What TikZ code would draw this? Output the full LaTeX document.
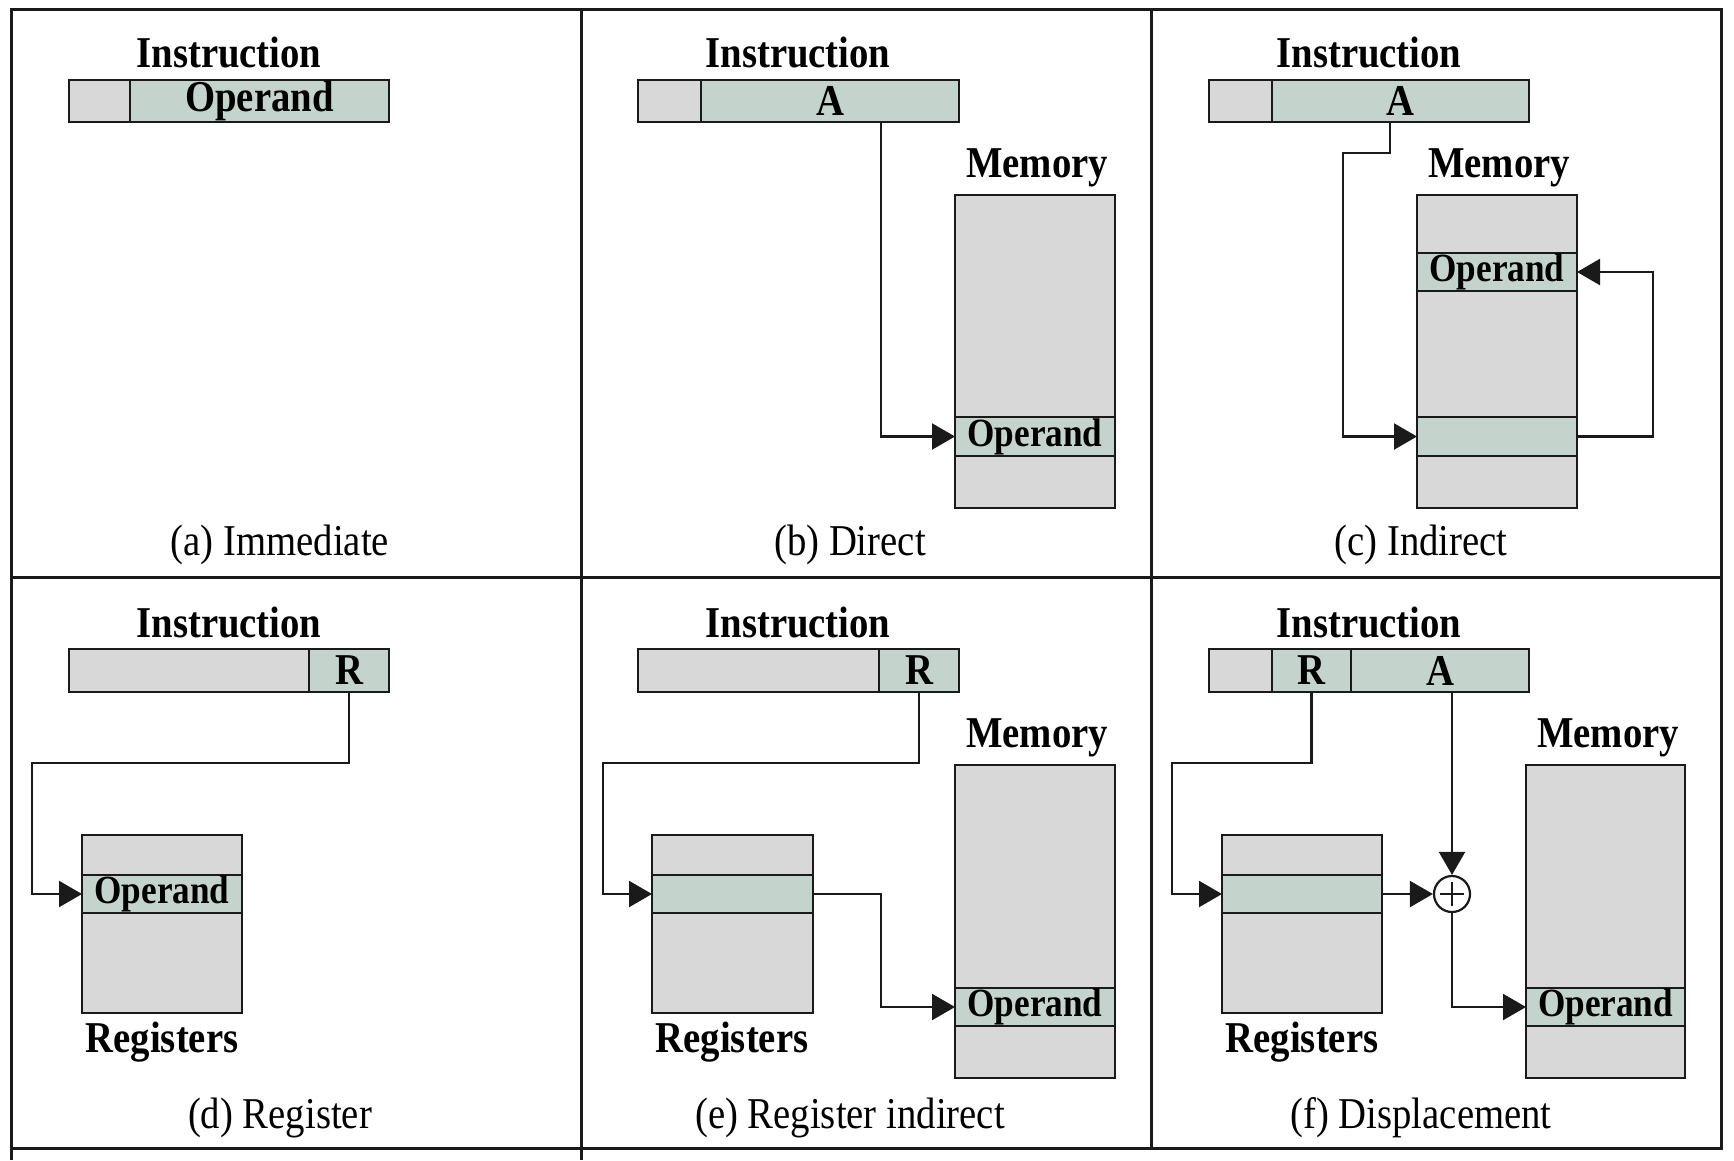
\documentclass[tikz,border=0pt]{standalone}
\usepackage{fontspec}
\setmainfont{Liberation Serif}[FakeStretch=0.88]
\usetikzlibrary{arrows.meta}
\definecolor{boxgray}{HTML}{D8D8D8}
\definecolor{boxgreen}{HTML}{C4D4CC}
\definecolor{ink}{HTML}{1A1A1A}
\newcommand\cellbox[7]{\node[part,#6,minimum width={(#4)-(#2)},minimum height={(#5)-(#3)}] (#1) at ({((#2)+(#4))/2},{((#3)+(#5))/2}) {#7};}
\begin{document}
\begin{tikzpicture}[x=1pt,y=-1pt,
 part/.style={draw=ink,line width=2.2pt,inner sep=0pt,outer sep=0pt},
 gry/.style={fill=boxgray}, grn/.style={fill=boxgreen},
 lab/.style={font=\fontsize{44}{52}\selectfont\bfseries,inner sep=0pt,anchor=base},
 capt/.style={font=\fontsize{44}{52}\selectfont,inner sep=0pt,anchor=base},
 fldtxt/.style={font=\fontsize{44}{52}\selectfont\bfseries},
 optxt/.style={font=\fontsize{40}{48}\selectfont\bfseries},
 arr/.style={draw=ink,line width=2.2pt,-{Triangle[length=23pt,width=26pt]}},
 wire/.style={draw=ink,line width=2.2pt},
 cellframe/.style={draw=ink,line width=3pt}]
\useasboundingbox (0,0) rectangle (1734,1160);
% frame
\draw[cellframe] (11,1160) -- (11,9) -- (1721,9) -- (1721,1148) -- (11,1148);
\draw[cellframe] (11,577) -- (1721,577);
\draw[cellframe] (581,9) -- (581,1160);
\draw[cellframe] (1151,9) -- (1151,1148);
% (a)
\node[lab] (aI) at (229,67) {Instruction};
\cellbox{aOpc}{69}{80}{130}{122}{gry}{}
\cellbox{aF}{130}{80}{389}{122}{grn,fldtxt}{Operand}
\node[capt] (aC) at (280,555) {(a) Immediate};
% (b)
\node[lab] (bI) at (798,67) {Instruction};
\cellbox{bOpc}{638}{80}{701}{122}{gry}{}
\cellbox{bA}{701}{80}{959}{122}{grn,fldtxt}{A}
\node[lab] (bML) at (1037,177) {Memory};
\cellbox{bM}{955}{195}{1115}{508}{gry}{}
\cellbox{bOp}{955}{417}{1115}{456}{grn,optxt}{Operand}
\coordinate (bAo) at (881,122);
\draw[arr] (bAo) |- (bOp.west);
\node[capt] (bC) at (850,555) {(b) Direct};
% (c)
\node[lab] (cI) at (1369,67) {Instruction};
\cellbox{cOpc}{1209}{80}{1272}{122}{gry}{}
\cellbox{cA}{1272}{80}{1529}{122}{grn,fldtxt}{A}
\node[lab] (cML) at (1499,177) {Memory};
\cellbox{cM}{1417}{195}{1577}{508}{gry}{}
\cellbox{cOp}{1417}{253}{1577}{291}{grn,optxt}{Operand}
\cellbox{cPtr}{1417}{417}{1577}{456}{grn}{}
\coordinate (cAo) at (1390,122);
\coordinate (cK) at (1343,153);
\draw[arr] (cAo) |- (cK) |- (cPtr.west);
\coordinate (cK2) at (1653,436.5);
\draw[arr] (cPtr.east) -- (cK2) |- (cOp.east);
\node[capt] (cC) at (1421,555) {(c) Indirect};
% (d)
\node[lab] (dI) at (229,637) {Instruction};
\cellbox{dOpc}{69}{649}{309}{692}{gry}{}
\cellbox{dR}{309}{649}{389}{692}{grn,fldtxt}{R}
\cellbox{dReg}{82}{835}{242}{1013}{gry}{}
\cellbox{dOp}{82}{875}{242}{913}{grn,optxt}{Operand}
\node[lab] (dRL) at (162,1052) {Registers};
\coordinate (dK) at (32,763);
\draw[arr] (dR.south) |- (dK) |- (dOp.west);
\node[capt] (dC) at (280,1128) {(d) Register};
% (e)
\node[lab] (eI) at (798,637) {Instruction};
\cellbox{eOpc}{638}{649}{879}{692}{gry}{}
\cellbox{eR}{879}{649}{959}{692}{grn,fldtxt}{R}
\node[lab] (eML) at (1037,747) {Memory};
\cellbox{eM}{955}{765}{1115}{1078}{gry}{}
\cellbox{eOp}{955}{988}{1115}{1026}{grn,optxt}{Operand}
\cellbox{eReg}{652}{835}{813}{1013}{gry}{}
\cellbox{eRow}{652}{875}{813}{913}{grn}{}
\node[lab] (eRL) at (732,1052) {Registers};
\coordinate (eK) at (603,763);
\draw[arr] (eR.south) |- (eK) |- (eRow.west);
\coordinate (eK2) at (881,894);
\draw[arr] (eRow.east) -- (eK2) |- (eOp.west);
\node[capt] (eC) at (850,1128) {(e) Register indirect};
% (f)
\node[lab] (fI) at (1369,637) {Instruction};
\cellbox{fOpc}{1209}{649}{1272}{692}{gry}{}
\cellbox{fR}{1272}{649}{1351}{692}{grn,fldtxt}{R}
\cellbox{fA}{1351}{649}{1529}{692}{grn,fldtxt}{A}
\node[lab] (fML) at (1608,747) {Memory};
\cellbox{fM}{1526}{765}{1685}{1078}{gry}{}
\cellbox{fOp}{1526}{988}{1685}{1026}{grn,optxt}{Operand}
\cellbox{fReg}{1222}{835}{1382}{1013}{gry}{}
\cellbox{fRow}{1222}{875}{1382}{913}{grn}{}
\node[lab] (fRL) at (1302,1052) {Registers};
\node[draw=ink,line width=2.2pt,circle,fill=white,minimum size=36pt,inner sep=0pt] (plus) at (1452,894) {};
\draw[wire] ([xshift=-12pt]plus.center) -- ([xshift=12pt]plus.center);
\draw[wire] ([yshift=-12pt]plus.center) -- ([yshift=12pt]plus.center);
\coordinate (fK) at (1172,763);
\draw[arr] (fR.south) |- (fK) |- (fRow.west);
\draw[arr] (fA.south -| plus) -- (plus.north);
\draw[arr] (fRow.east) -- (plus.west);
\draw[arr] (plus.south) |- (fOp.west);
\node[capt] (fC) at (1421,1128) {(f) Displacement};
\end{tikzpicture}
\end{document}
